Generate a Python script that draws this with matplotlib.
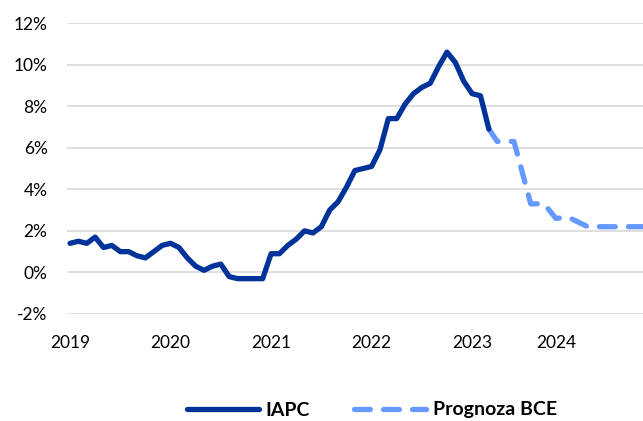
import numpy as np
import matplotlib.pyplot as plt

# IAPC monthly, Jan 2019 .. Mar 2023 (x = months since Jan 2019)
iapc = [1.4, 1.5, 1.4, 1.7, 1.2, 1.3, 1.0, 1.0, 0.8, 0.7, 1.0, 1.3,
        1.4, 1.2, 0.7, 0.3, 0.1, 0.3, 0.4, -0.2, -0.3, -0.3, -0.3, -0.3,
        0.9, 0.9, 1.3, 1.6, 2.0, 1.9, 2.2, 3.0, 3.4, 4.1, 4.9, 5.0,
        5.1, 5.9, 7.4, 7.4, 8.1, 8.6, 8.9, 9.1, 9.9, 10.6, 10.1, 9.2,
        8.6, 8.5, 6.9]
iapc_x = np.arange(len(iapc))

# ECB projection, vertices
bce_x = [50, 51, 53, 55, 56.6, 58, 59.5, 61.8, 70]
bce = [6.9, 6.3, 6.3, 3.3, 3.3, 2.6, 2.65, 2.2, 2.2]

year_labels = ['2019', '2020', '2021', '2022', '2023', '2024']
year_pos = [0, 12, 24, 36, 48, 58]

plt.rcParams['font.family'] = ['Lato', 'DejaVu Sans']

fig = plt.figure(figsize=(6.43, 4.21), dpi=100)
ax = fig.add_axes([67/643, 1 - 314/421, 1 - 67/643, (314 - 23)/421])

ax.plot(iapc_x, iapc, color='#003399', lw=3.8, solid_capstyle='round',
        solid_joinstyle='round', label='IAPC', zorder=3)
ax.plot(bce_x, bce, color='#6699FF', lw=3.8, dashes=(3, 2.5),
        dash_capstyle='round', dash_joinstyle='round', label='Prognoza BCE', zorder=2)

ax.set_xlim(-0.36, 68.4)
ax.set_ylim(-2, 12)
ax.set_yticks(np.arange(-2, 13, 2))
ax.set_yticklabels([f'{v}%' for v in range(-2, 13, 2)])
ax.set_xticks(year_pos)
ax.set_xticklabels(year_labels)
ax.grid(axis='y', color='#D9D9D9', lw=1.2)
ax.set_axisbelow(True)
for s in ax.spines.values():
    s.set_visible(False)
ax.tick_params(length=0, labelsize=12.5, colors='#000000')
ax.tick_params(axis='y', pad=14)
ax.tick_params(axis='x', pad=15)

leg = fig.legend(loc='center', bbox_to_anchor=(372/643, 1 - 410/421), ncol=2,
                 frameon=False, handlelength=3.7, columnspacing=2.3,
                 handletextpad=0.35, prop={'weight': 'bold', 'size': 14})

fig.savefig('out.png', dpi=100)
